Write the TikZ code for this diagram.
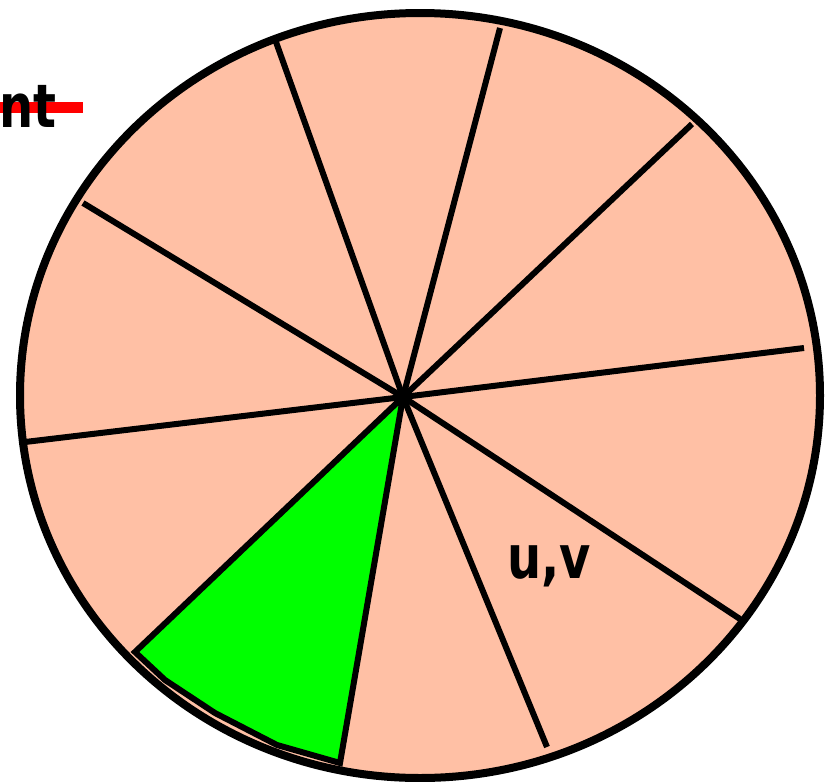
\documentclass[tikz,border=0pt]{standalone}
\usepackage{fontspec}
\setmainfont{DejaVu Sans}
\definecolor{peach}{RGB}{255,192,165}
\definecolor{lgreen}{RGB}{0,255,0}
\newcommand{\narrowtxt}[1]{\scalebox{0.8}[1]{#1}}
\begin{document}
\begin{tikzpicture}[x=1pt,y=-1pt,
  spoke/.style={line width=6pt},
  rim/.style={line width=8pt},
  lbl/.style={inner sep=0pt,font=\fontsize{60}{64}\selectfont\bfseries}]
\useasboundingbox (0,0) rectangle (833,782);
\coordinate (c) at (420,395.5);
\coordinate (h) at (403,397);
\fill[peach] (c) ellipse [x radius=400, y radius=382.5];
\coordinate (g1) at (135,652);
\coordinate (g2) at (165,680);
\coordinate (g3) at (215,713);
\coordinate (g4) at (277,745);
\coordinate (g5) at (340,763);
\filldraw[fill=lgreen,draw=black,line width=6pt,line join=miter] (h) -- (g1) -- (g2) -- (g3) -- (g4) -- (g5) -- cycle;
\foreach \p [count=\i] in {(276,42),(500,28),(692,124),(804,348),(740,619),(547,747),(25,442),(83,203)}
  \draw[spoke] (h) -- \p;
\draw[rim] (c) ellipse [x radius=400, y radius=382.5];
\node[lbl,anchor=base] (uv) at (549,578) {\narrowtxt{u,v}};
\fill[red] (0,102) rectangle (83,113);
\node[lbl,anchor=base east] (nt) at (57,127) {\narrowtxt{nt}};
\end{tikzpicture}
\end{document}
